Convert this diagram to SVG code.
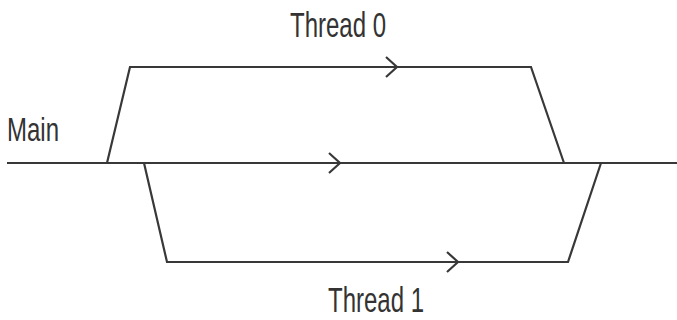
<svg xmlns="http://www.w3.org/2000/svg" width="677" height="320" viewBox="0 0 677 320">
<style>
.ln{fill:none;stroke:#383838;stroke-width:2.2;stroke-linejoin:miter}
.chev{fill:none;stroke:#383838;stroke-width:2.2}
.lbl{font-family:"Liberation Sans",Arial,sans-serif;font-size:24px;fill:#333}
</style>
<rect width="677" height="320" fill="#fff"/>
<g id="connectors">
<path id="main-line" class="ln" d="M7,163 H677"/>
<path id="thread0-line" class="ln" d="M107,163 L130,67 H531 L564,163"/>
<path id="thread1-line" class="ln" d="M144,163 L167,262 H568 L601,163"/>
<path class="chev" d="M386,57 L397,67 L386,77"/>
<path class="chev" d="M329,153 L340,163 L329,173"/>
<path class="chev" d="M447,252 L458,262 L447,272"/>
</g>
<g id="main"><text class="lbl" transform="translate(7,141) scale(1,1.4)">Main</text></g>
<g id="thread0"><text class="lbl" transform="translate(290,37) scale(1,1.45)">Thread 0</text></g>
<g id="thread1"><text class="lbl" transform="translate(328,312) scale(1,1.45)">Thread 1</text></g>
</svg>
